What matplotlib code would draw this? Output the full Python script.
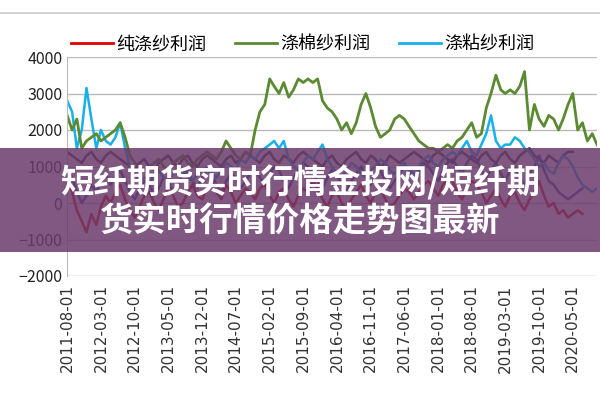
import matplotlib
matplotlib.use("Agg")
import matplotlib.pyplot as plt
import pandas as pd
from matplotlib.patches import Rectangle
from matplotlib.lines import Line2D

plt.rcParams['font.family'] = ['Noto Sans CJK SC', 'DejaVu Sans']

start = "2011-08-01"

green = [2400,2000,2300,1500,1700,1800,1900,1700,1800,1900,2000,2200,1800,1300,
         1100,1000,900,1000,1100,1200,1000,900,1100,1200,1300,1100,1000,1200,1300,1400,1300,1200,1400,
         1700,1500,1300,1200,1400,1300,
         2000,2500,2700,
         3400,3200,3000,3300,2900,3100,3400,3300,3400,3300,3400,2800,
         2600,2500,2300,2000,
         2200,1900,2200,2700,3000,
         2600,2100,1800,1900,2000,2300,2400,
         2300,2100,1900,1700,1600,1500,1500,
         1400,1500,1600,1500,1700,1800,2000,
         2200,1800,1900,2600,3000,
         3500,
         3100,3000,3100,3000,3200,
         3600,
         2000,2700,2300,2100,2400,2300,2000,2300,2700,
         3000,
         2000,2200,1700,1900,1600,1400,1400]

lightblue = [2800,2500,1500,2000,3150,2300,1500,2000,1700,1600,1800,2200,1500,
             1000,800,600,700,500,800,900,700,600,800,1000,900,700,600,800,900,1000,800,700,900,1100,1000,900,1200,1100,1300,1200,1400,1500,
             1600,1700,1500,1700,
             1200,1000,900,1100,1300,1200,1400,
             1600,
             1200,1000,800,700,900,1100,1000,800,700,900,1000,1200,1100,900,800,1000,1100,900,800,1000,1200,1300,1100,1000,1200,1300,1400,1300,1500,
             1700,1400,1300,1600,1900,
             2400,
             1700,1500,1600,1600,1800,
             1700,1500,1400,
             1200,1000,1100,900,800,1100,1300,1200,1000,700,500,400,300,400]

red = [600,300,-200,-500,-800,-300,-600,-100,200,0,300,500,100,
       -200,-400,-100,200,300,0,-200,100,400,200,-100,0,300,500,200,100,400,600,300,100,
       500,300,0,200,400,300,100,400,500,200,0,300,400,100,-100,200,400,300,600,
       400,100,-100,200,300,0,-200,100,300,500,200,0,300,400,100,-100,0,200,400,300,
       100,300,500,600,400,200,500,700,600,300,100,400,600,500,300,
       0,200,400,100,-100,200,300,0,-200,100,300,600,200,-100,0,-300,-200,-400,-300,-200,-300]

navy = [900,700,300,0,200,500,300,600,800,500,700,900,600,
        300,100,400,600,500,200,400,700,600,300,500,800,900,600,400,700,900,800,500,300,
        600,800,700,400,600,800,900,700,500,800,1000,900,600,400,700,900,1100,1000,800,
        600,400,700,900,800,500,300,600,800,1000,700,500,800,900,600,400,600,800,1000,900,
        700,900,1100,1000,800,600,900,1100,1200,1000,800,1100,1300,1200,900,
        700,900,1100,800,600,900,1000,700,500,800,1000,1300,900,600,500,300,200,100,200,300,400]

grey = [1400,1300,1200,1100,1300,1400,1200,1100,1300,1400,1300,1200,1100,
        1000,900,1100,1200,1000,900,1100,1200,1300,1100,1000,1200,1300,1100,1000,1200,1300,1200,1100,1000,
        1200,1300,1100,1200,1400,1300,1200,1100,1300,1400,1200,1100,1300,1200,1100,1300,1400,1300,1200,
        1100,1000,1200,1300,1100,1000,1200,1300,1400,1200,1100,1300,1200,1000,1100,1300,1200,1100,
        1200,1300,1400,1300,1200,1100,1300,1400,1300,1200,1100,1300,1400,1300,1200,
        1100,1300,1400,1200,1100,1300,1400,1200,1100,1300,1400,1500,1300,1200,1100,1300,1200,1100,1300,1400,1400]

labels = ["纯涤纱利润", "涤棉纱利润", "涤粘纱利润"]
colors = ["#e00000", "#5b8a32", "#18b0ea"]

def d(series):
    return pd.date_range(start, periods=len(series), freq="MS")

fig = plt.figure(figsize=(6, 4), dpi=100)
ax = fig.add_axes([0.112, 0.31, 0.883, 0.5475])

ax.plot(d(grey), grey, color="#3a3a3a", lw=1.8)
ax.plot(d(navy), navy, color="#2a4da8", lw=1.8)
ax.plot(d(red), red, color=colors[0], lw=1.8)
ax.plot(d(lightblue), lightblue, color=colors[2], lw=1.8)
ax.plot(d(green), green, color=colors[1], lw=2)

alld = pd.date_range(start, periods=111, freq="MS")
ax.set_ylim(-2000, 4000)
ax.set_yticks(range(-2000, 4001, 1000))
ax.set_xlim(alld[0], alld[-1])
ticks = alld[::7]
ax.set_xticks(ticks)
ax.set_xticklabels([t.strftime("%Y-%m-%d") for t in ticks], rotation=90, fontsize=11, color="#333333",
                   family="DejaVu Sans")
ax.tick_params(axis='y', labelsize=11.5, colors="#222222", length=0)
ax.tick_params(axis='x', length=0, pad=6)
ax.grid(axis='y', color="#bbbbbb", lw=1)
for s in ["top", "right", "bottom"]:
    ax.spines[s].set_visible(False)
ax.spines["left"].set_color("#bbbbbb")

handles = [Line2D([0], [0], color=c, lw=2) for c in colors]
fig.legend(handles, labels, loc="center", bbox_to_anchor=(0.505, 0.888), ncol=3, frameon=False,
           fontsize=13, handlelength=2.3, columnspacing=1.6, handletextpad=0.2)

fig.add_artist(Line2D([0, 1], [1 - 13/400, 1 - 13/400], color="#cccccc", lw=1.2))

fig.add_artist(Rectangle((0, 1 - 252/400), 1, 104/400, transform=fig.transFigure,
                         facecolor="#6b3b6b", alpha=0.85, edgecolor="none"))
fig.text(0.5, 1 - 183/400, "短纤期货实时行情金投网/短纤期", ha="center", va="center",
         color="white", fontsize=24, fontweight="black")
fig.text(0.5, 1 - 222/400, "货实时行情价格走势图最新", ha="center", va="center",
         color="white", fontsize=24, fontweight="black")

fig.savefig("out.png", dpi=100)
